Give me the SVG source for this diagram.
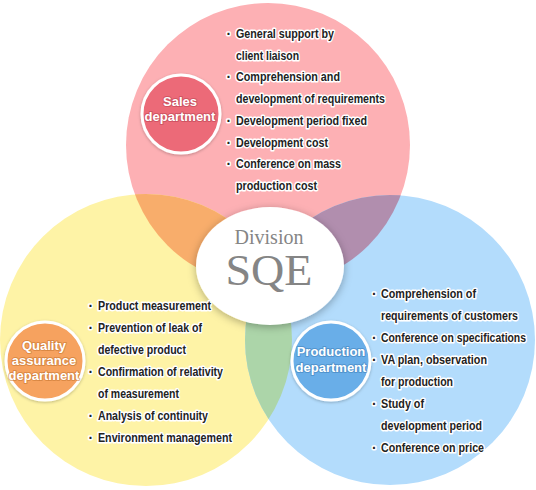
<svg xmlns="http://www.w3.org/2000/svg" width="536" height="490" viewBox="0 0 536 490">
<style>
.li{font-family:"Liberation Sans",Arial,sans-serif;font-weight:bold;font-size:12px;fill:#222;stroke:#fff;stroke-width:3;stroke-linejoin:round;paint-order:stroke}
.bu{font-family:"Liberation Sans",Arial,sans-serif;font-weight:bold;font-size:14px;fill:#222;stroke:#fff;stroke-width:3;stroke-linejoin:round;paint-order:stroke}
.dl{font-family:"Liberation Sans",Arial,sans-serif;font-weight:bold;font-size:13px;fill:#fff;text-anchor:middle;stroke-width:2;stroke-linejoin:round;paint-order:stroke;stroke-opacity:0.55}
.ring{stroke:#fff;stroke-width:3;filter:url(#sh)}
.ser{font-family:"Liberation Serif","Times New Roman",serif;fill:#858585;text-anchor:middle}
</style>
<defs>
<clipPath id="cP"><circle cx="268" cy="145" r="142"/></clipPath>
<clipPath id="cY"><circle cx="146" cy="340" r="146"/></clipPath>
<filter id="sh" x="-30%" y="-30%" width="160%" height="160%"><feDropShadow dx="0" dy="1" stdDeviation="1.5" flood-color="#000" flood-opacity="0.25"/></filter>
<filter id="esh" x="-30%" y="-30%" width="160%" height="160%"><feDropShadow dx="0" dy="2" stdDeviation="4" flood-color="#000" flood-opacity="0.3"/></filter>
</defs>
<g id="venn">
<circle cx="268" cy="145" r="142" fill="#fdb0b4"/>
<circle cx="146" cy="340" r="146" fill="#fef3a6"/>
<circle cx="390" cy="340" r="145" fill="#b3dcfc"/>
<circle cx="146" cy="340" r="146" fill="#f8ad6b" clip-path="url(#cP)"/>
<circle cx="390" cy="340" r="145" fill="#b18eae" clip-path="url(#cP)"/>
<g clip-path="url(#cY)"><circle cx="390" cy="340" r="145" fill="#acd5a9"/></g>
</g>
<g id="center">
<ellipse cx="270" cy="266" rx="74" ry="59" fill="#fff" filter="url(#esh)"/>
<text class="ser" x="269" y="244" font-size="20">Division</text>
<text class="ser" x="269" y="285" font-size="44" textLength="87" lengthAdjust="spacingAndGlyphs">SQE</text>
</g>
<g id="sales">
<circle class="ring" cx="181" cy="114" r="39" fill="#ec6b78"/>
<text class="dl" x="180" y="106" stroke="#b84452">Sales</text>
<text class="dl" x="180" y="121" stroke="#b84452">department</text>
<g>
<text class="bu" x="226.5" y="39">·</text>
<text class="li" x="236" y="38" textLength="98" lengthAdjust="spacingAndGlyphs">General support by</text>
<text class="li" x="236" y="59.7" textLength="63" lengthAdjust="spacingAndGlyphs">client liaison</text>
<text class="bu" x="226.5" y="82.4">·</text>
<text class="li" x="236" y="81.4" textLength="104" lengthAdjust="spacingAndGlyphs">Comprehension and</text>
<text class="li" x="236" y="103.1" textLength="149" lengthAdjust="spacingAndGlyphs">development of requirements</text>
<text class="bu" x="226.5" y="125.8">·</text>
<text class="li" x="236" y="124.8" textLength="131" lengthAdjust="spacingAndGlyphs">Development period fixed</text>
<text class="bu" x="226.5" y="147.5">·</text>
<text class="li" x="236" y="146.5" textLength="92" lengthAdjust="spacingAndGlyphs">Development cost</text>
<text class="bu" x="226.5" y="169.2">·</text>
<text class="li" x="236" y="168.2" textLength="105" lengthAdjust="spacingAndGlyphs">Conference on mass</text>
<text class="li" x="236" y="190" textLength="81" lengthAdjust="spacingAndGlyphs">production cost</text>
</g>
</g>
<g id="quality">
<circle class="ring" cx="45" cy="361" r="39" fill="#f6a25f"/>
<text class="dl" x="44" y="350" stroke="#c4742f">Quality</text>
<text class="dl" x="44" y="365" stroke="#c4742f">assurance</text>
<text class="dl" x="44" y="380" stroke="#c4742f">department</text>
<g>
<text class="bu" x="88.5" y="310.5">·</text>
<text class="li" x="98" y="309.5" textLength="113" lengthAdjust="spacingAndGlyphs">Product measurement</text>
<text class="bu" x="88.5" y="332.5">·</text>
<text class="li" x="98" y="331.5" textLength="104" lengthAdjust="spacingAndGlyphs">Prevention of leak of</text>
<text class="li" x="98" y="353.5" textLength="88" lengthAdjust="spacingAndGlyphs">defective product</text>
<text class="bu" x="88.5" y="376.5">·</text>
<text class="li" x="98" y="375.5" textLength="125" lengthAdjust="spacingAndGlyphs">Confirmation of relativity</text>
<text class="li" x="98" y="397.5" textLength="81" lengthAdjust="spacingAndGlyphs">of measurement</text>
<text class="bu" x="88.5" y="420.5">·</text>
<text class="li" x="98" y="419.5" textLength="110" lengthAdjust="spacingAndGlyphs">Analysis of continuity</text>
<text class="bu" x="88.5" y="442.5">·</text>
<text class="li" x="98" y="441.5" textLength="134" lengthAdjust="spacingAndGlyphs">Environment management</text>
</g>
</g>
<g id="production">
<circle class="ring" cx="331" cy="361" r="39" fill="#69aee8"/>
<text class="dl" x="331" y="356" stroke="#3f7fb8">Production</text>
<text class="dl" x="331" y="371.5" stroke="#3f7fb8">department</text>
<g>
<text class="bu" x="372" y="299">·</text>
<text class="li" x="381" y="298" textLength="95" lengthAdjust="spacingAndGlyphs">Comprehension of</text>
<text class="li" x="381" y="320" textLength="137" lengthAdjust="spacingAndGlyphs">requirements of customers</text>
<text class="bu" x="372" y="343">·</text>
<text class="li" x="381" y="342" font-size="10.5" textLength="145" lengthAdjust="spacingAndGlyphs">Conference on specifications</text>
<text class="bu" x="372" y="365">·</text>
<text class="li" x="381" y="364" textLength="106" lengthAdjust="spacingAndGlyphs">VA plan, observation</text>
<text class="li" x="381" y="386" textLength="72" lengthAdjust="spacingAndGlyphs">for production</text>
<text class="bu" x="372" y="409">·</text>
<text class="li" x="381" y="408" textLength="43" lengthAdjust="spacingAndGlyphs">Study of</text>
<text class="li" x="381" y="430" textLength="101" lengthAdjust="spacingAndGlyphs">development period</text>
<text class="bu" x="372" y="453">·</text>
<text class="li" x="381" y="452" textLength="103" lengthAdjust="spacingAndGlyphs">Conference on price</text>
</g>
</g>
</svg>
